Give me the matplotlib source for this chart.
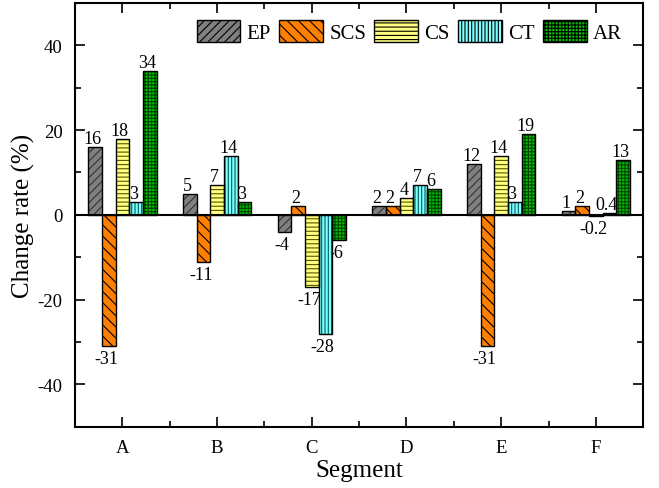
import matplotlib
matplotlib.use("Agg")
import matplotlib.pyplot as plt
import numpy as np
from matplotlib.ticker import FixedLocator
from matplotlib.patches import Patch

plt.rcParams['font.family'] = ['Liberation Serif', 'DejaVu Serif']
plt.rcParams['hatch.linewidth'] = 0.8
plt.rcParams['axes.unicode_minus'] = False

segments = ['A', 'B', 'C', 'D', 'E', 'F']
series_names = ['EP', 'SCS', 'CS', 'CT', 'AR']
EP = [16, 5, -4, 2, 12, 1]
SCS = [-31, -11, 2, 2, -31, 2]
CS = [18, 7, -17, 4, 14, -0.2]
CT = [3, 14, -28, 7, 3, 0.4]
AR = [34, 3, -6, 6, 19, 13]
labels = [
    ['16', '5', '-4', '2', '12', '1'],
    ['-31', '-11', '2', '2', '-31', '2'],
    ['18', '7', '-17', '4', '14', '-0.2'],
    ['3', '14', '-28', '7', '3', '0.4'],
    ['34', '3', '-6', '6', '19', '13'],
]
values = [EP, SCS, CS, CT, AR]

faces = ['#808080', '#FF8000', '#FFFF80', '#80FFFF', '#00C000']
hatch_cols = ['#333333', '#000000', '#555500', '#006060', '#004000']
hatches = ['////', '\\\\\\', '----', '|||||', '+++++']

fig = plt.figure(figsize=(6.59, 4.89), dpi=100)
ax = fig.add_axes([0.114, 0.125, 0.862, 0.867])

x = np.arange(1, len(segments) + 1)
w = 0.144
for i, (vals, name) in enumerate(zip(values, series_names)):
    pos = x + (i - 2) * w
    ax.bar(pos, vals, width=w, color=faces[i], edgecolor=hatch_cols[i],
           hatch=hatches[i], linewidth=0, zorder=3)
    ax.bar(pos, vals, width=w, fill=False, edgecolor='black',
           linewidth=1.0, zorder=4, label=name)
    for p, v, t in zip(pos, vals, labels[i]):
        if v >= 0:
            ax.annotate(t, (p, v), xytext=(-2, 0), textcoords='offset points',
                        ha='center', va='bottom', fontsize=13, zorder=2)
        else:
            ax.annotate(t, (p, v), xytext=(-2, -3), textcoords='offset points',
                        ha='center', va='top', fontsize=13, zorder=2)

proxies = [Patch(facecolor=faces[i], edgecolor='black', hatch=hatches[i], linewidth=1.0)
           for i in range(5)]
ax.legend(proxies, series_names, loc='upper right', ncol=5, frameon=False,
          fontsize=15, handlelength=2.1, handleheight=1.3, handletextpad=0.3,
          columnspacing=0.4, bbox_to_anchor=(0.985, 0.99), borderaxespad=0.2)

ax.axhline(0, color='black', linewidth=1.5, zorder=5)
ax.set_xlim(0.5, 6.5)
ax.set_ylim(-50, 50)
ax.set_xticks(x)
ax.set_xticklabels(segments)
ax.xaxis.set_minor_locator(FixedLocator(np.arange(1.5, 6.0, 1.0)))
ax.yaxis.set_major_locator(FixedLocator([-40, -20, 0, 20, 40]))
ax.yaxis.set_minor_locator(FixedLocator([-30, -10, 10, 30]))
ax.tick_params(which='both', direction='in', top=True, right=True, labelsize=13.5, width=1.2)
ax.tick_params(which='major', length=7, pad=9)
ax.tick_params(which='minor', length=4)
for s in ax.spines.values():
    s.set_linewidth(1.5)
ax.set_xlabel('Segment', fontsize=18, labelpad=2)
ax.set_ylabel('Change rate (%)', fontsize=18, labelpad=2)

fig.savefig('out.png', dpi=100)
